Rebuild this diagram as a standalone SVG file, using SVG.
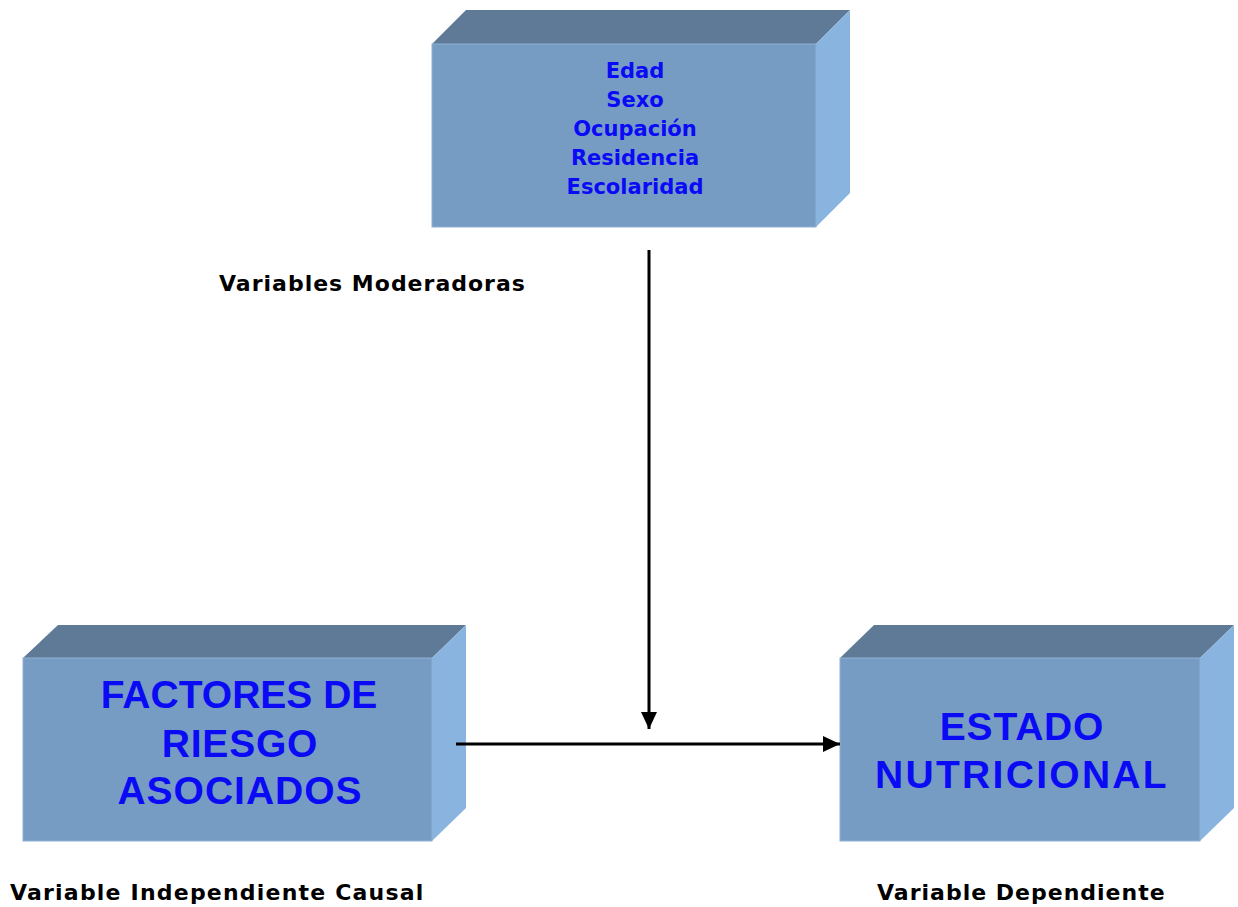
<svg xmlns="http://www.w3.org/2000/svg" width="1238" height="907" viewBox="0 0 1238 907">
<style>
.front{fill:#769CC4;stroke:#8FB0D4;stroke-width:1}
.top{fill:#5E7A96}
.side{fill:#8AB4E0}
.t{font-family:"DejaVu Sans",Verdana,sans-serif;font-weight:bold;fill:#0A0AF5;text-anchor:middle}
.big{font-family:"Liberation Sans",Arial,sans-serif;font-weight:bold;fill:#0A0AF5;text-anchor:middle;font-size:39px}
.lbl{font-family:"DejaVu Sans",Verdana,sans-serif;font-weight:bold;fill:#000;font-size:22px;letter-spacing:1px}
.conn{stroke:#000;stroke-width:3;fill:none}
</style>
<defs>
<marker id="ah" markerWidth="18" markerHeight="17" refX="17" refY="8" orient="auto" markerUnits="userSpaceOnUse">
<path d="M0,0 L17,8 L0,16 Z" fill="#000"/>
</marker>
</defs>
<rect width="1238" height="907" fill="#fff"/>
<g id="node-moderadoras">
<polygon class="top" points="432,44 466,10 850,10 816,44"/>
<polygon class="side" points="816,44 850,10 850,193 816,227"/>
<rect class="front" x="432" y="44" width="384" height="183"/>
<text class="t" font-size="21" x="635" y="78">Edad</text>
<text class="t" font-size="21" x="635" y="107">Sexo</text>
<text class="t" font-size="21" x="635" y="136">Ocupación</text>
<text class="t" font-size="21" x="635" y="165">Residencia</text>
<text class="t" font-size="21" x="635" y="194">Escolaridad</text>
</g>
<g id="node-factores">
<polygon class="top" points="23,658 58,625 466,625 432,658"/>
<polygon class="side" points="432,658 466,625 466,808 432,841"/>
<rect class="front" x="23" y="658" width="409" height="183"/>
<text class="big" x="239" y="708">FACTORES DE</text>
<text class="big" x="240" y="757" style="letter-spacing:0.8px">RIESGO</text>
<text class="big" x="240" y="804" style="letter-spacing:1px">ASOCIADOS</text>
</g>
<g id="node-estado">
<polygon class="top" points="840,658 874,625 1234,625 1200,658"/>
<polygon class="side" points="1200,658 1234,625 1234,808 1200,841"/>
<rect class="front" x="840" y="658" width="360" height="183"/>
<text class="big" x="1022" y="740" style="letter-spacing:0.8px">ESTADO</text>
<text class="big" x="1022" y="788" style="letter-spacing:2.3px">NUTRICIONAL</text>
</g>
<g id="labels">
<text class="lbl" x="219" y="291">Variables Moderadoras</text>
<text class="lbl" x="10" y="900" style="letter-spacing:1.2px">Variable Independiente Causal</text>
<text class="lbl" x="877" y="900">Variable Dependiente</text>
</g>
<g id="connectors">
<line class="conn" x1="649" y1="250" x2="649" y2="729" marker-end="url(#ah)"/>
<line class="conn" x1="456" y1="744" x2="840" y2="744" marker-end="url(#ah)"/>
</g>
</svg>
